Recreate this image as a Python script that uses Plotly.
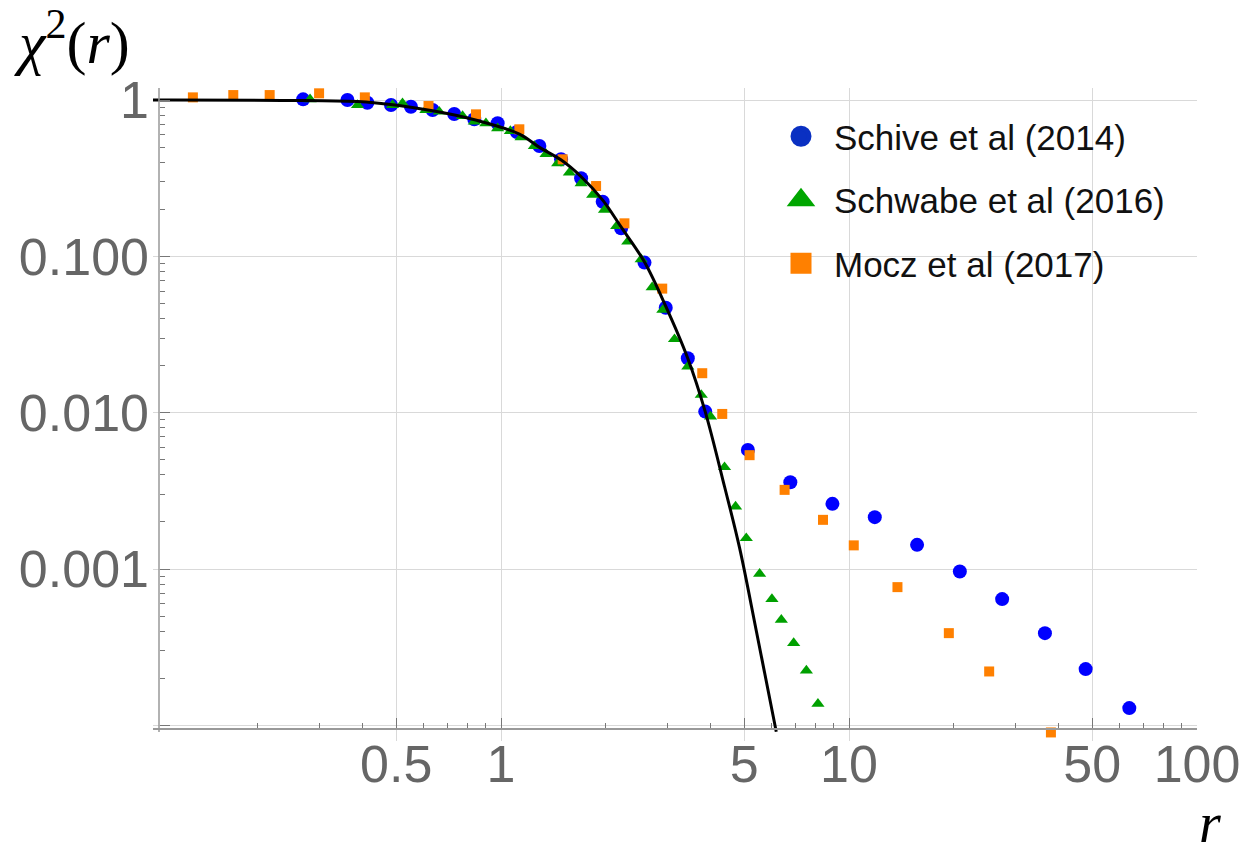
import plotly.graph_objects as go

# Schive et al (2014)
r_schive = [0.270, 0.362, 0.413, 0.483, 0.551, 0.636, 0.734, 0.838, 0.978, 1.111,
            1.289, 1.488, 1.699, 1.960, 2.214, 2.584, 2.974, 3.442, 3.863, 5.122,
            6.783, 8.961, 11.86, 15.69, 20.82, 27.55, 36.56, 47.87, 63.9]
chi2_schive = [1.010, 1.000, 0.961, 0.929, 0.906, 0.863, 0.814, 0.753, 0.710, 0.624,
               0.508, 0.418, 0.3157, 0.2238, 0.1512, 0.0912, 0.0469, 0.02231, 0.01016, 0.005783,
               0.003594, 0.002611, 0.002147, 0.001428, 0.000964, 0.000642, 0.000389, 0.000229, 0.000129]

# Schwabe et al (2016)
r_schwabe = [0.2827, 0.3869, 0.4878, 0.5211, 0.6084, 0.6646, 0.7754, 0.838, 0.905, 0.978,
             1.064, 1.142, 1.247, 1.347, 1.455, 1.572, 1.699, 1.834, 1.983, 2.150,
             2.313, 2.528, 2.719, 2.917, 3.152, 3.442, 3.762, 4.000, 4.389, 4.721,
             5.068, 5.536, 6.005, 6.390, 6.934, 7.542, 8.143]
chi2_schwabe = [1.010, 0.929, 0.929, 0.953, 0.863, 0.842, 0.790, 0.727, 0.710, 0.659,
                0.6335, 0.5775, 0.508, 0.4516, 0.3937, 0.3428, 0.2934, 0.247, 0.198, 0.1564,
                0.1242, 0.0958, 0.0634, 0.04544, 0.02951, 0.01972, 0.0130, 0.00944, 0.004483, 0.002510,
                0.001576, 0.000932, 0.000642, 0.000473, 0.000336, 0.000224, 0.0001374]

# Mocz et al (2017)
r_mocz = [0.1302, 0.1701, 0.2164, 0.3001, 0.4062, 0.6190, 0.8475, 1.129, 1.504, 1.876,
          2.263, 2.906, 3.787, 4.323, 5.18, 6.531, 8.419, 10.32, 13.78, 19.36,
          25.28, 38.04]
chi2_mocz = [1.040, 1.076, 1.076, 1.104, 1.040, 0.9155, 0.810, 0.650, 0.4177, 0.2818,
             0.1627, 0.0622, 0.01789, 0.00982, 0.005349, 0.003209, 0.002064, 0.001417, 0.000766, 0.000389,
             0.0002212, 0.0000901]

# Soliton profile curve
r_curve = [0.099, 0.27, 0.41, 0.636, 0.845, 1.13, 1.29, 1.49, 1.70, 1.96,
           2.21, 2.58, 2.98, 3.44, 3.86, 4.39, 4.85, 5.42, 6.18]
chi2_curve = [1.0, 0.993, 0.972, 0.854, 0.745, 0.606, 0.498, 0.413, 0.323, 0.229,
              0.155, 0.0926, 0.0475, 0.0223, 0.0102, 0.00336, 0.00136, 0.000399, 0.000091]

# Axis ticks
x_major = [0.1, 0.5, 1, 5, 10, 50, 100]
x_labels = ["", "0.5", "1", "5", "10", "50", "100"]
x_minor = [0.2, 0.3, 0.4, 0.6, 0.7, 0.8, 0.9, 2, 3, 4, 6, 7, 8, 9,
           20, 30, 40, 60, 70, 80, 90]
y_major = [0.0001, 0.001, 0.01, 0.1, 1]
y_labels = ["", "0.001", "0.010", "0.100", "1"]
y_minor = [m * 10.0 ** k for k in (-4, -3, -2, -1) for m in range(2, 10)]

# Series styling: (name, plot colour, legend colour, symbol, plot size)
series_style = [
    ("Schive et al (2014)", "#0000ff", "#0a30c2", "circle", 14),
    ("Schwabe et al (2016)", "#00a000", "#00a600", "triangle-up", 11.5),
    ("Mocz et al (2017)", "#ff8000", "#ff8000", "square", 10),
]
series_data = [(r_schive, chi2_schive), (r_schwabe, chi2_schwabe), (r_mocz, chi2_mocz)]

tick_font = dict(family="Liberation Sans, Arial, sans-serif", size=52, color="#666666")
grid_color = "#d9d9d9"
axis_color = "#999999"
tick_color = "#777777"

# Vertical layout: y range reaches slightly below the x axis line so that
# points just under 1e-4 remain visible below the axis.
y_lo, y_hi = -4.10, 0.077
y_axis_floor = -4.023
frac_axis = (y_axis_floor - y_lo) / (y_hi - y_lo)
y_pos_frac = 6 / 1044

fig = go.Figure()
for (name, col, leg_col, sym, size), (xs, ys) in zip(series_style, series_data):
    fig.add_trace(go.Scatter(
        x=xs, y=ys, mode="markers", name=name, showlegend=False,
        marker=dict(symbol=sym, size=size, color=col, line=dict(width=0))))
    # legend entry with a larger glyph
    fig.add_trace(go.Scatter(
        x=[None], y=[None], mode="markers", name=name, legendgroup=name,
        marker=dict(symbol=sym, size=16, color=leg_col, line=dict(width=5, color=leg_col))))

fig.add_trace(go.Scatter(
    x=r_curve, y=chi2_curve, mode="lines", showlegend=False,
    line=dict(color="black", width=3, shape="spline")))

fig.update_layout(
    width=1245, height=859,
    margin=dict(l=153, r=48, t=88, b=118),
    plot_bgcolor="white", paper_bgcolor="white",
    showlegend=True,
    legend=dict(
        x=(768 - 153) / 1044, y=1 - (107 - 88) / 653, xanchor="left", yanchor="top",
        bgcolor="rgba(255,255,255,0)", borderwidth=0,
        font=dict(family="Liberation Sans, Arial, sans-serif", size=35, color="#111111"),
        itemwidth=56, tracegroupgap=15, itemsizing="trace"),
    xaxis=dict(
        type="log", range=[-1, 2], automargin=False,
        anchor="free", position=frac_axis,
        tickmode="array", tickvals=x_major, ticktext=x_labels,
        ticks="inside", ticklen=10, tickwidth=1, tickcolor=tick_color,
        showline=True, linecolor=axis_color, linewidth=1.5,
        showgrid=True, gridcolor=grid_color, gridwidth=1, zeroline=False,
        tickfont=tick_font, ticklabelstandoff=-10,
        minor=dict(tickmode="array", tickvals=x_minor, ticks="inside", ticklen=5,
                   tickwidth=1, tickcolor=tick_color, showgrid=False)),
    yaxis=dict(
        type="log", range=[y_lo, y_hi], automargin=False,
        anchor="free", position=y_pos_frac,
        tickmode="array", tickvals=y_major, ticktext=y_labels,
        ticks="inside", ticklen=10, tickwidth=1, tickcolor=tick_color,
        showline=False,
        showgrid=True, gridcolor=grid_color, gridwidth=1, zeroline=False,
        tickfont=tick_font, ticklabelstandoff=10,
        minor=dict(tickmode="array", tickvals=y_minor, ticks="inside", ticklen=5,
                   tickwidth=1, tickcolor=tick_color, showgrid=False)),
    shapes=[
        # mask grid lines under the x axis line
        dict(type="rect", xref="paper", yref="paper", x0=-0.01, x1=1.01, y0=0, y1=frac_axis,
             fillcolor="white", line=dict(width=0), layer="between"),
        # y axis line, stopping just under the x axis
        dict(type="line", xref="paper", yref="paper", x0=y_pos_frac, x1=y_pos_frac,
             y0=frac_axis - 3 / 653, y1=1, line=dict(color=axis_color, width=1.5), layer="above"),
    ],
    annotations=[
        dict(text="<i>χ</i><sup>2</sup>(<i>r</i>)", xref="paper", yref="paper",
             x=(12 - 153) / 1044, y=1 + (88 - 38) / 653, xanchor="left", yanchor="middle",
             showarrow=False,
             font=dict(family="Liberation Serif, DejaVu Serif, serif", size=60, color="black")),
        dict(text="<i>r</i>", xref="paper", yref="paper",
             x=(1210 - 153) / 1044, y=-(823 - 741) / 653, xanchor="center", yanchor="middle",
             showarrow=False,
             font=dict(family="Liberation Serif, DejaVu Serif, serif", size=56, color="black")),
    ],
)

fig.write_html("out.html")
